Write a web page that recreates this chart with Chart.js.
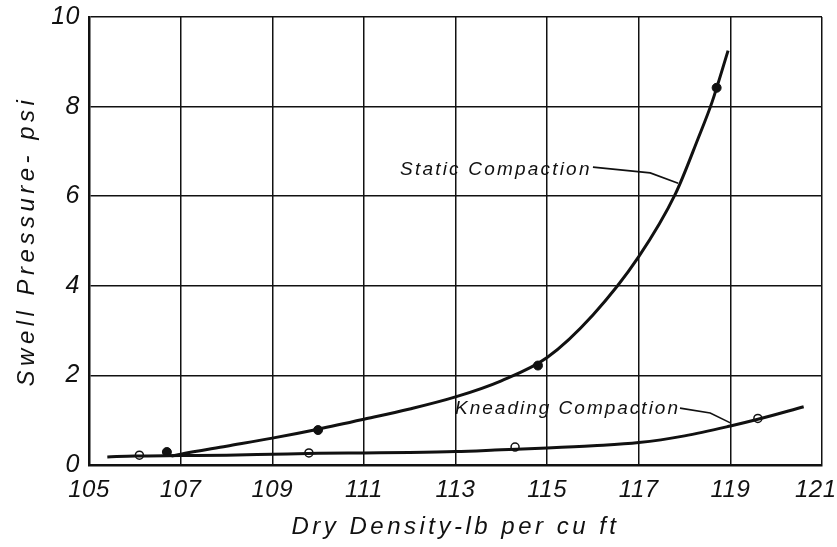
<!DOCTYPE html>
<html><head><meta charset="utf-8">
<script src="https://cdn.jsdelivr.net/npm/chart.js@4.4.1/dist/chart.umd.min.js"></script>
<style>html,body{margin:0;padding:0;background:#fff}</style>
</head><body>
<canvas id="c" width="837" height="547"></canvas>
<script>
// ---- data ----
const staticCurveX = [106.8, 107, 108, 109, 110, 111, 112, 113, 114, 115, 116, 117, 117.8, 118.3, 118.6, 118.95];
const staticCurveY = [0.2, 0.24, 0.42, 0.6, 0.8, 1.02, 1.25, 1.52, 1.88, 2.4, 3.35, 4.65, 6.05, 7.3, 8.1, 9.25];
const staticPointsX = [106.7, 110.0, 114.8, 118.7];
const staticPointsY = [0.29, 0.78, 2.22, 8.42];

const kneadCurveX = [105.4, 106, 107, 108, 109, 110, 111, 112, 113, 114, 115, 116, 117, 118, 119, 119.6, 120.6];
const kneadCurveY = [0.18, 0.2, 0.21, 0.22, 0.24, 0.26, 0.27, 0.28, 0.3, 0.34, 0.38, 0.43, 0.5, 0.65, 0.87, 1.02, 1.3];
const kneadPointsX = [106.1, 109.8, 114.3, 119.6];
const kneadPointsY = [0.22, 0.27, 0.4, 1.04];

const xTickValues = [105, 107, 109, 111, 113, 115, 117, 119, 121];
const yTickValues = [0, 2, 4, 6, 8, 10];

const xTitle = 'Dry Density-lb per cu ft';
const yTitle = 'Swell Pressure- psi';

const staticLabel = 'Static Compaction';
const staticLabelAt = [111.79, 6.58];
const staticArrowX = [116.0, 117.25, 117.86];
const staticArrowY = [6.65, 6.52, 6.29];

const kneadLabel = 'Kneading Compaction';
const kneadLabelAt = [112.99, 1.25];
const kneadArrowX = [117.9, 118.56, 119.0];
const kneadArrowY = [1.27, 1.16, 0.94];

// ---- build ----
const zip = (xs, ys) => xs.map((x, i) => ({x, y: ys[i]}));
const FONT = '"Liberation Sans", Arial, sans-serif';
const INK = '#111';

const annotPlugin = {
  id: 'annot',
  beforeDraw(chart) { chart.ctx.letterSpacing = '0.5px'; },
  afterDraw(chart) {
    const ctx = chart.ctx, xs = chart.scales.x, ys = chart.scales.y;
    const ca = chart.chartArea;
    ctx.save();
    ctx.fillStyle = INK; ctx.strokeStyle = INK;
    // axis titles
    ctx.font = 'italic 24px ' + FONT;
    ctx.letterSpacing = '3.5px';
    ctx.textAlign = 'center'; ctx.textBaseline = 'middle';
    ctx.fillText(xTitle, (ca.left + ca.right) / 2, 527);
    ctx.save();
    ctx.translate(27, (ca.top + ca.bottom) / 2);
    ctx.rotate(-Math.PI / 2);
    ctx.letterSpacing = '4.5px';
    ctx.fillText(yTitle, 0, 0);
    ctx.restore();
    // curve labels
    ctx.font = 'italic 19px ' + FONT;
    ctx.textAlign = 'left';
    ctx.letterSpacing = '2.2px';
    ctx.fillText(staticLabel, xs.getPixelForValue(staticLabelAt[0]), ys.getPixelForValue(staticLabelAt[1]));
    ctx.letterSpacing = '2px';
    ctx.fillText(kneadLabel, xs.getPixelForValue(kneadLabelAt[0]), ys.getPixelForValue(kneadLabelAt[1]));
    // arrows
    ctx.lineWidth = 1.6;
    [[staticArrowX, staticArrowY], [kneadArrowX, kneadArrowY]].forEach(([ax, ay]) => {
      ctx.beginPath();
      ax.forEach((v, i) => {
        const px = xs.getPixelForValue(v), py = ys.getPixelForValue(ay[i]);
        if (i === 0) ctx.moveTo(px, py); else ctx.lineTo(px, py);
      });
      ctx.stroke();
    });
    ctx.restore();
  }
};

new Chart(document.getElementById('c'), {
  type: 'scatter',
  data: {
    datasets: [
      { data: zip(staticCurveX, staticCurveY), showLine: true, borderColor: INK, borderWidth: 3,
        pointRadius: 0, cubicInterpolationMode: 'monotone', fill: false },
      { data: zip(kneadCurveX, kneadCurveY), showLine: true, borderColor: INK, borderWidth: 3,
        pointRadius: 0, cubicInterpolationMode: 'monotone', fill: false },
      { data: zip(staticPointsX, staticPointsY), showLine: false, pointRadius: 4.5,
        pointBackgroundColor: INK, pointBorderColor: INK, pointBorderWidth: 1 },
      { data: zip(kneadPointsX, kneadPointsY), showLine: false, pointRadius: 4,
        pointBackgroundColor: '#fff', pointBorderColor: INK, pointBorderWidth: 1.5 }
    ]
  },
  options: {
    responsive: false,
    animation: false,
    events: [],
    layout: { padding: { left: 0, right: 15, top: 17, bottom: 0 } },
    plugins: { legend: { display: false }, tooltip: { enabled: false } },
    scales: {
      x: {
        type: 'linear', min: 105, max: 121,
        afterBuildTicks: s => { s.ticks = xTickValues.map(v => ({value: v})); },
        afterFit: s => { s.height = 82; s.paddingLeft = 0; s.paddingRight = 0; },
        grid: { color: INK, lineWidth: 1.5, drawTicks: false },
        border: { color: INK, width: 2.5 },
        ticks: { color: INK, padding: 11, font: { family: FONT, size: 24, style: 'italic' },
          callback: v => v === xTickValues[xTickValues.length - 1] ? String(v) + '\u2002' : String(v) }
      },
      y: {
        type: 'linear', min: 0, max: 10,
        afterBuildTicks: s => { s.ticks = yTickValues.map(v => ({value: v})); },
        afterFit: s => { s.width = 89; s.paddingTop = 0; s.paddingBottom = 0; },
        grid: { color: INK, lineWidth: 1.5, drawTicks: false },
        border: { color: INK, width: 2.5 },
        ticks: { color: INK, padding: 9, font: { family: FONT, size: 25, style: 'italic' } }
      }
    }
  },
  plugins: [annotPlugin]
});
</script>
</body></html>
